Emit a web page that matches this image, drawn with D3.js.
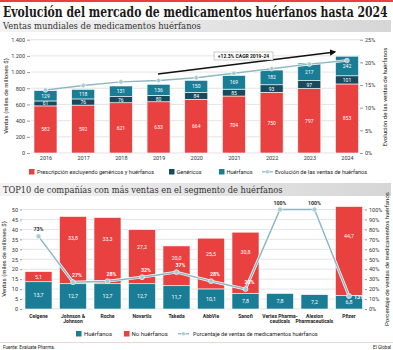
<!DOCTYPE html>
<html><head><meta charset="utf-8">
<script src="https://cdn.jsdelivr.net/npm/d3@7"></script>
<style>
body{margin:0;background:#fff;}
svg{display:block;}
text{font-family:Roboto,"Liberation Sans",sans-serif;}
</style></head>
<body>
<svg id="c" width="393" height="350"></svg>
<script>
// ---------- DATA ----------
const years = ["2016","2017","2018","2019","2020","2021","2022","2023","2024"];
const prescripcion = [582,592,621,633,664,704,750,797,853];
const genericos = [61,76,76,80,84,85,93,97,101];
const huerfanos = [129,118,131,136,150,169,182,217,242];
const evolucionPct = [13.9,14.9,15.7,16.0,16.6,17.6,18.6,19.6,20.4];
const topLeftTicks = [0,200,400,600,800,1000,1200,1400];
const topRightTicks = [0,5,10,15,20,25];

const companies = ["Celgene","Johnson & Johnson","Roche","Novartis","Takeda","AbbVie","Sanofi","Vertex Pharmaceuticals","Alexion Pharmaceuticals","Pfizer"];
const companyLabels = [["Celgene"],["Johnson &","Johnson"],["Roche"],["Novartis"],["Takeda"],["AbbVie"],["Sanofi"],["Vertex Pharma-","ceuticals"],["Alexion","Pharmaceuticals"],["Pfizer"]];
const ventasHuerfanos = [13.7,12.7,12.7,12.7,11.7,10.1,7.8,7.8,7.2,6.8];
const ventasNoHuerfanos = [5.1,33.8,33.3,27.2,20.0,25.5,30.8,0,0,44.7];
const pctHuerfanos = [73,27,28,32,37,28,20,100,100,13];
const botLeftTicks = [0,5,10,15,20,25,30,35,40,45,50];
const botRightTicks = [0,10,20,30,40,50,60,70,80,90,100];

// ---------- STYLE ----------
const RED="#e8413f", NAVY="#174a5c", TEAL="#1a7d96", LINE="#8db8c2", GRID="#d9d9d9", TXT="#333";
const loc = d3.formatLocale({decimal:",",thousands:".",grouping:[3],currency:["","$"]});
const fmtK = loc.format(",d"), fmt1 = loc.format(".1f");

const svg = d3.select("#c");
const defs = svg.append("defs");
const grad = defs.append("linearGradient").attr("id","band");
grad.append("stop").attr("offset","0%").attr("stop-color","#f3f3f3");
grad.append("stop").attr("offset","100%").attr("stop-color","#d6d6d6");

// fitted text: scale horizontally so the text spans `len` px
function fitText(x,y,txt,len,fs,weight){
  const g = svg.append("g");
  const t = g.append("text").attr("x",0).attr("y",0)
    .style("font-family","'DejaVu Serif',serif").style("font-weight",weight).style("font-size",fs+"px")
    .attr("fill",weight==="bold"?"#1a1a1a":"#333").text(txt);
  const w = t.node().getComputedTextLength();
  g.attr("transform",`translate(${x},${y}) scale(${len/w},1)`);
}

// top red rule
svg.append("rect").attr("x",0).attr("y",0).attr("width",393).attr("height",2).attr("fill",RED);
// title
fitText(3,16.5,"Evolución del mercado de medicamentos huérfanos hasta 2024",385,14,"bold");
// subtitle bands
function band(y,h,txt,len){
  svg.append("rect").attr("x",0).attr("y",y).attr("width",391).attr("height",h).attr("fill","url(#band)");
  fitText(3,y+h-3,txt,len,9.5,"normal");
}
band(20,12,"Ventas mundiales de medicamentos huérfanos",198);
band(183,13,"TOP10 de compañías con más ventas en el segmento de huérfanos",280);

// ---------- TOP CHART ----------
const tY = d3.scaleLinear().domain([0,1400]).range([153,39.7]);
const tYr = d3.scaleLinear().domain([0,25]).range([153,39.7]);
const tX = d3.scalePoint().domain(years).range([45.5,347]);
const bwTop = 23;
const gT = svg.append("g");
gT.append("g").selectAll("line").data(topLeftTicks).join("line")
  .attr("x1",31).attr("x2",360).attr("y1",d=>tY(d)).attr("y2",d=>tY(d)).attr("stroke",GRID).attr("stroke-width",0.7);
const axL = d3.axisLeft(tY).tickValues(topLeftTicks).tickFormat(fmtK).tickSize(3).tickPadding(2);
gT.append("g").attr("transform","translate(30,0)").call(axL).call(g=>{
  g.select(".domain").remove(); g.selectAll("line").attr("stroke","#999");
  g.selectAll("text").attr("fill",TXT).style("font-size","5.5px");});
const axR = d3.axisRight(tYr).tickValues(topRightTicks).tickFormat(d=>d+"%").tickSize(3).tickPadding(2);
gT.append("g").attr("transform","translate(360,0)").call(axR).call(g=>{
  g.select(".domain").remove(); g.selectAll("line").attr("stroke","#999");
  g.selectAll("text").attr("fill",TXT).style("font-size","5.5px");});
const axB = d3.axisBottom(tX).tickSize(0).tickPadding(3);
gT.append("g").attr("transform","translate(0,153)").call(axB).call(g=>{
  g.select(".domain").remove();
  g.selectAll("text").attr("fill",TXT).style("font-size","5.5px");});
gT.append("text").attr("transform","translate(8,96) rotate(-90)").attr("text-anchor","middle")
  .style("font-size","6px").attr("fill","#222").text("Ventas (miles de millones $)");
gT.append("text").attr("transform","translate(387,97) rotate(-90)").attr("text-anchor","middle")
  .style("font-size","6px").attr("fill","#222").text("Evolución de las ventas de huérfanos");

const topSeries = [{k:"p",vals:prescripcion,c:RED},{k:"g",vals:genericos,c:NAVY},{k:"h",vals:huerfanos,c:TEAL}];
years.forEach((yr,i)=>{
  let base=0;
  topSeries.forEach(s=>{
    const v=s.vals[i], y0=tY(base), y1=tY(base+v);
    gT.append("rect").attr("x",tX(yr)-bwTop/2).attr("width",bwTop).attr("y",y1).attr("height",y0-y1)
      .attr("fill",s.c).attr("stroke","#fff").attr("stroke-width",0.6);
    gT.append("text").attr("x",tX(yr)).attr("y",(y0+y1)/2+2).attr("text-anchor","middle")
      .style("font-size","5px").attr("fill","#fff").text(v);
    base+=v;
  });
});
// CAGR arrow
defs.append("marker").attr("id","ah").attr("viewBox","0 0 10 10").attr("refX",8).attr("refY",5)
  .attr("markerWidth",4).attr("markerHeight",4).attr("orient","auto")
  .append("path").attr("d","M0,0L10,5L0,10z").attr("fill","#111");
gT.append("line").attr("x1",158).attr("y1",74).attr("x2",335).attr("y2",52).attr("stroke","#111")
  .attr("stroke-width",1.6).attr("marker-end","url(#ah)");
gT.append("rect").attr("x",214).attr("y",52).attr("width",59).attr("height",8).attr("fill","#fff").attr("stroke","#999").attr("stroke-width",0.5);
gT.append("text").attr("x",243.5).attr("y",58.2).attr("text-anchor","middle").style("font-size","5px").style("font-weight","bold")
  .attr("fill","#111").text("+12.3% CAGR 2019-24");
// evolution line
const tLine = d3.line().x((d,i)=>tX(years[i])).y(d=>tYr(d));
gT.append("path").datum(evolucionPct).attr("d",tLine).attr("fill","none").attr("stroke","#fff").attr("stroke-width",2.6);
gT.append("path").datum(evolucionPct).attr("d",tLine).attr("fill","none").attr("stroke",LINE).attr("stroke-width",1.4);
gT.selectAll("circle.pt").data(evolucionPct).join("circle").attr("class","pt")
  .attr("cx",(d,i)=>tX(years[i])).attr("cy",d=>tYr(d)).attr("r",2.3).attr("fill","#a9cbd2").attr("stroke","#fff").attr("stroke-width",0.6);

// legend helper
function legend(items,y){
  const g=svg.append("g");
  items.forEach(it=>{
    if(it.type==="rect"){
      g.append("rect").attr("x",it.x).attr("y",y-3).attr("width",5.5).attr("height",5.5).attr("fill",it.c);
    } else {
      g.append("line").attr("x1",it.x).attr("x2",it.x+11).attr("y1",y-0.2).attr("y2",y-0.2).attr("stroke",LINE).attr("stroke-width",1.3);
      g.append("circle").attr("cx",it.x+5.5).attr("cy",y-0.2).attr("r",2).attr("fill","#a9cbd2").attr("stroke","#fff").attr("stroke-width",0.5);
    }
    g.append("text").attr("x",it.tx).attr("y",y+2).style("font-size",it.fs||"5.6px").attr("fill","#222").text(it.t);
  });
}
legend([
  {type:"rect",x:29,c:RED,tx:37,t:"Prescripción excluyendo genéricos y huérfanos"},
  {type:"rect",x:169,c:NAVY,tx:176.5,t:"Genéricos"},
  {type:"rect",x:219,c:TEAL,tx:226.5,t:"Huérfanos"},
  {type:"line",x:262,tx:275,t:"Evolución de las ventas de huérfanos"}
],172);

// ---------- BOTTOM CHART ----------
const bY = d3.scaleLinear().domain([0,50]).range([309,209.5]);
const bYr = d3.scaleLinear().domain([0,100]).range([309,209.5]);
const bX = d3.scalePoint().domain(companies).range([38.5,349]);
const bw = 27;
const gB = svg.append("g");
gB.append("g").selectAll("line").data(botLeftTicks).join("line")
  .attr("x1",22).attr("x2",365).attr("y1",d=>bY(d)).attr("y2",d=>bY(d)).attr("stroke",GRID).attr("stroke-width",0.7);
gB.append("g").attr("transform","translate(22,0)").call(d3.axisLeft(bY).tickValues(botLeftTicks).tickSize(2).tickPadding(2)).call(g=>{
  g.select(".domain").remove(); g.selectAll("line").attr("stroke","#999");
  g.selectAll("text").attr("fill",TXT).style("font-size","5.5px");});
gB.append("g").attr("transform","translate(365,0)").call(d3.axisRight(bYr).tickValues(botRightTicks).tickFormat(d=>d+"%").tickSize(2).tickPadding(2)).call(g=>{
  g.select(".domain").remove(); g.selectAll("line").attr("stroke","#999");
  g.selectAll("text").attr("fill",TXT).style("font-size","5.5px");});
gB.append("text").attr("transform","translate(6,259) rotate(-90)").attr("text-anchor","middle")
  .style("font-size","6px").attr("fill","#222").text("Ventas (miles de millones $)");
gB.append("text").attr("transform","translate(389,259) rotate(-90)").attr("text-anchor","middle")
  .style("font-size","6px").attr("fill","#222").text("Porcentaje de ventas de medicamentos huérfanos");

companies.forEach((c,i)=>{
  const x=bX(c)-bw/2;
  const h0=bY(0), h1=bY(ventasHuerfanos[i]), n1=bY(ventasHuerfanos[i]+ventasNoHuerfanos[i]);
  gB.append("rect").attr("x",x).attr("width",bw).attr("y",h1).attr("height",h0-h1).attr("fill",TEAL).attr("stroke","#fff").attr("stroke-width",0.6);
  gB.append("text").attr("x",bX(c)).attr("y",(h0+h1)/2+2).attr("text-anchor","middle").style("font-size","5.3px").attr("fill","#fff").text(fmt1(ventasHuerfanos[i]));
  if(ventasNoHuerfanos[i]>0){
    gB.append("rect").attr("x",x).attr("width",bw).attr("y",n1).attr("height",h1-n1).attr("fill",RED).attr("stroke","#fff").attr("stroke-width",0.6);
    const ly = ventasNoHuerfanos[i]<10 ? (h1+n1)/2+2 : n1+(h1-n1)*0.35;
    gB.append("text").attr("x",bX(c)).attr("y",ly).attr("text-anchor","middle").style("font-size","5.3px").attr("fill","#fff").text(fmt1(ventasNoHuerfanos[i]));
  }
  companyLabels[i].forEach((l,j)=>{
    gB.append("text").attr("x",bX(c)).attr("y",318+j*5.3).attr("text-anchor","middle").style("font-size","5px").style("font-weight","bold").attr("fill","#222").text(l);
  });
});
const bLine = d3.line().x((d,i)=>bX(companies[i])).y(d=>bYr(d));
gB.append("path").datum(pctHuerfanos).attr("d",bLine).attr("fill","none").attr("stroke","#fff").attr("stroke-width",2.8);
gB.append("path").datum(pctHuerfanos).attr("d",bLine).attr("fill","none").attr("stroke",LINE).attr("stroke-width",1.5);
gB.selectAll("circle.pt").data(pctHuerfanos).join("circle").attr("class","pt")
  .attr("cx",(d,i)=>bX(companies[i])).attr("cy",d=>bYr(d)).attr("r",2.5).attr("fill","#a9cbd2").attr("stroke","#fff").attr("stroke-width",0.6);
pctHuerfanos.forEach((p,i)=>{
  const x=bX(companies[i]), y=bYr(p);
  const total=ventasHuerfanos[i]+ventasNoHuerfanos[i];
  const inside = bY(total) < y-4;
  let lx=x+(inside?4:0), ly=y-5, anchor="middle";
  if(i===companies.length-1){lx=x+5; ly=y+3; anchor="start";}
  gB.append("text").attr("x",lx).attr("y",ly).attr("text-anchor",anchor).style("font-size","5.3px").style("font-weight","bold")
    .attr("fill",inside?"#fff":"#333").text(p+"%");
});
legend([
  {type:"rect",x:76,c:TEAL,tx:84,t:"Huérfanos",fs:"6px"},
  {type:"rect",x:124,c:RED,tx:131.5,t:"No huérfanos",fs:"6px"},
  {type:"line",x:178,tx:193,t:"Porcentaje de ventas de medicamentos huérfanos",fs:"5.6px"}
],334);

// footer
svg.append("line").attr("x1",0).attr("x2",393).attr("y1",342.5).attr("y2",342.5).attr("stroke","#e6d6d6").attr("stroke-width",1);
svg.append("text").attr("x",3).attr("y",348.5).style("font-size","4.6px").attr("fill","#222").text("Fuente: Evaluate Pharma.");
svg.append("text").attr("x",391).attr("y",348.5).attr("text-anchor","end").style("font-size","4.6px").attr("fill","#222").text("El Global");
</script>
</body></html>
